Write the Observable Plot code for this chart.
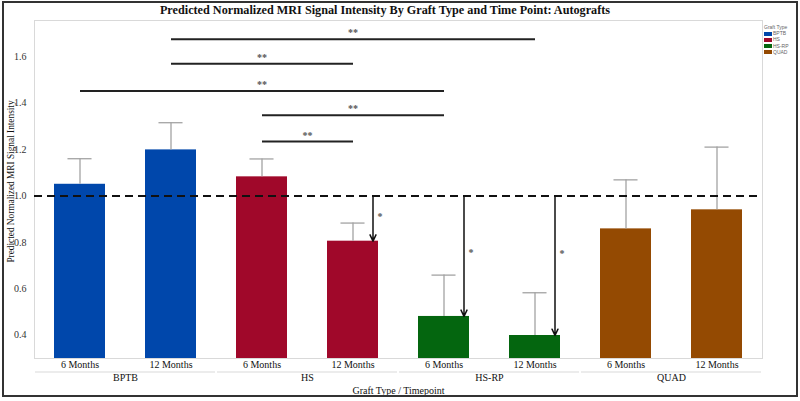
<!DOCTYPE html>
<html>
<head>
<meta charset="utf-8">
<script src="https://cdn.jsdelivr.net/npm/d3@7"></script>
<script src="https://cdn.jsdelivr.net/npm/@observablehq/plot@0.6"></script>
<style>
  body { margin: 0; background: #fff; }
  #wrap { position: relative; width: 800px; height: 401px; overflow: hidden; font-family: "Liberation Serif", "Times New Roman", serif; }
  #chart { position: absolute; left: 0; top: 0; }
  #border { position: absolute; left: 2px; top: 1px; width: 792px; height: 392px; border: 2px solid #333; pointer-events: none; }
  #title { position: absolute; left: 0; top: 3px; width: 770px; text-align: center; font-weight: bold; font-size: 12.2px; color: #111; }
  #legend { position: absolute; left: 764px; top: 24px; font-family: "Liberation Sans", Arial, sans-serif; font-size: 5px; color: #666; line-height: 6.2px; }
  #legend .sw { display: inline-block; width: 8px; height: 4px; margin-right: 1px; vertical-align: middle; }
</style>
</head>
<body>
<div id="wrap">
  <div id="chart"></div>
  <div id="title"></div>
  <div id="legend"></div>
  <div id="border"></div>
</div>
<script>
// ---- data ----
const titleText = "Predicted Normalized MRI Signal Intensity By Graft Type and Time Point: Autografts";
const yLabel = "Predicted Normalized MRI Signal Intensity";
const xLabel = "Graft Type / Timepoint";
const legendTitle = "Graft Type";
const graftTypes = ["BPTB", "HS", "HS-RP", "QUAD"];
const timepoints = ["6 Months", "12 Months"];
const graftColors = ["#0047ab", "#a0082a", "#04660f", "#944a02"];
// order: BPTB 6, BPTB 12, HS 6, HS 12, HS-RP 6, HS-RP 12, QUAD 6, QUAD 12
const meanValues = [1.05, 1.198, 1.082, 0.805, 0.481, 0.399, 0.858, 0.94];
const upperValues = [1.16, 1.315, 1.159, 0.883, 0.659, 0.583, 1.069, 1.21];
const yTicks = [0.4, 0.6, 0.8, 1.0, 1.2, 1.4, 1.6];
const yDomain = [0.3, 1.755];
const referenceLevel = 1.0;
// pairwise significance brackets
const sigFrom = ["BPTB|12 Months", "BPTB|12 Months", "BPTB|6 Months", "HS|6 Months", "HS|6 Months"];
const sigTo = ["HS-RP|12 Months", "HS|12 Months", "HS-RP|6 Months", "HS-RP|6 Months", "HS|12 Months"];
const sigLevel = [1.674, 1.569, 1.452, 1.347, 1.234];
const sigText = ["**", "**", "**", "**", "**"];
// significance vs. reference level arrows
const arrowAt = ["HS|12 Months", "HS-RP|6 Months", "HS-RP|12 Months"];
const arrowStarLevel = [0.91, 0.755, 0.75];
const arrowText = ["*", "*", "*"];

// ---- build ----
const W = 800, H = 401;
const margin = {top: 20, right: 38, bottom: 43, left: 34};
const keys = graftTypes.flatMap(g => timepoints.map(t => g + "|" + t));
const rows = keys.map((k, i) => ({key: k, graft: graftTypes[Math.floor(i / 2)], time: timepoints[i % 2], mean: meanValues[i], upper: upperValues[i]}));
const sig = sigFrom.map((f, i) => ({from: f, to: sigTo[i], level: sigLevel[i], text: sigText[i]}));
const arrows = arrowAt.map((k, i) => ({key: k, mean: meanValues[keys.indexOf(k)], star: arrowStarLevel[i], text: arrowText[i]}));

const xOpts = {type: "band", domain: keys, paddingInner: 0.44, paddingOuter: 0.22, align: 0.5};
const xs = Plot.scale({x: {...xOpts, range: [margin.left, W - margin.right]}});
const bw = xs.bandwidth;
const step = xs.step ?? bw / (1 - 0.44);
const gapInset = -((step - bw) / 2) + 1;
const capInset = (bw - 24) / 2;

const marks = [
  Plot.frame({stroke: "#d9d9d9"}),
  Plot.barY(rows, {x: "key", y1: yDomain[0], y2: "mean", fill: "graft"}),
  Plot.ruleX(rows, {x: "key", y1: "mean", y2: "upper", stroke: "#a3a3a3", strokeWidth: 1.3}),
  Plot.tickY(rows, {x: "key", y: "upper", stroke: "#a3a3a3", strokeWidth: 1.3, insetLeft: capInset, insetRight: capInset}),
  Plot.ruleY([referenceLevel], {stroke: "#111", strokeWidth: 2, strokeDasharray: "8,5"}),
  Plot.link(sig, {x1: "from", x2: "to", y1: "level", y2: "level", stroke: "#222", strokeWidth: 2}),
  ...sig.map(s => Plot.text([s], {x: "from", y: "level", text: "text", dx: (xs.apply(s.to) - xs.apply(s.from)) / 2, dy: -3, lineAnchor: "bottom", fill: "#555", fontSize: 10, fontWeight: "bold"})),
  Plot.arrow(arrows, {x: "key", y1: () => referenceLevel, y2: "mean", dx: 20, stroke: "#111", strokeWidth: 1.5, headLength: 7, headAngle: 50}),
  Plot.text(arrows, {x: "key", y: "star", text: "text", dx: 27, fill: "#555", fontSize: 10, fontWeight: "bold"}),
  Plot.axisX({tickSize: 0, tickPadding: 2, tickFormat: k => k.split("|")[1], fontSize: 10, fill: "#111", label: null}),
  Plot.axisY({ticks: yTicks, tickFormat: d3.format(".1f"), tickSize: 0, tickPadding: 8, fontSize: 10, fill: "#333", label: null}),
  Plot.ruleY(graftTypes, {x1: g => g + "|" + timepoints[0], x2: g => g + "|" + timepoints[1], y: () => yDomain[0], dy: 13.5, insetLeft: gapInset, insetRight: gapInset, stroke: "#d9d9d9", strokeWidth: 1}),
  Plot.text(graftTypes, {x: g => g + "|" + timepoints[0], frameAnchor: "bottom", dx: step / 2, dy: 15, lineAnchor: "top", text: d => d, fontSize: 10, fill: "#111"}),
  Plot.text([xLabel], {frameAnchor: "bottom", dy: 28, lineAnchor: "top", text: d => d, fontSize: 10, fill: "#111"}),
  Plot.text([yLabel], {frameAnchor: "left", textAnchor: "middle", rotate: -90, dx: -23, dy: -8, text: d => d, fontSize: 9.3, fill: "#111"})
];

const chart = Plot.plot({
  width: W,
  height: H,
  marginTop: margin.top,
  marginRight: margin.right,
  marginBottom: margin.bottom,
  marginLeft: margin.left,
  style: {fontFamily: "Liberation Serif, Times New Roman, serif", fontSize: "10px", background: "#fff"},
  x: {...xOpts, axis: null},
  y: {domain: yDomain, axis: null},
  color: {domain: graftTypes, range: graftColors},
  marks
});
document.getElementById("chart").appendChild(chart);
document.getElementById("title").textContent = titleText;

const legend = document.getElementById("legend");
const lt = document.createElement("div");
lt.textContent = legendTitle;
legend.appendChild(lt);
graftTypes.forEach((g, i) => {
  const row = document.createElement("div");
  const sw = document.createElement("span");
  sw.className = "sw";
  sw.style.background = graftColors[i];
  row.appendChild(sw);
  row.appendChild(document.createTextNode(g));
  legend.appendChild(row);
});
</script>
</body>
</html>
